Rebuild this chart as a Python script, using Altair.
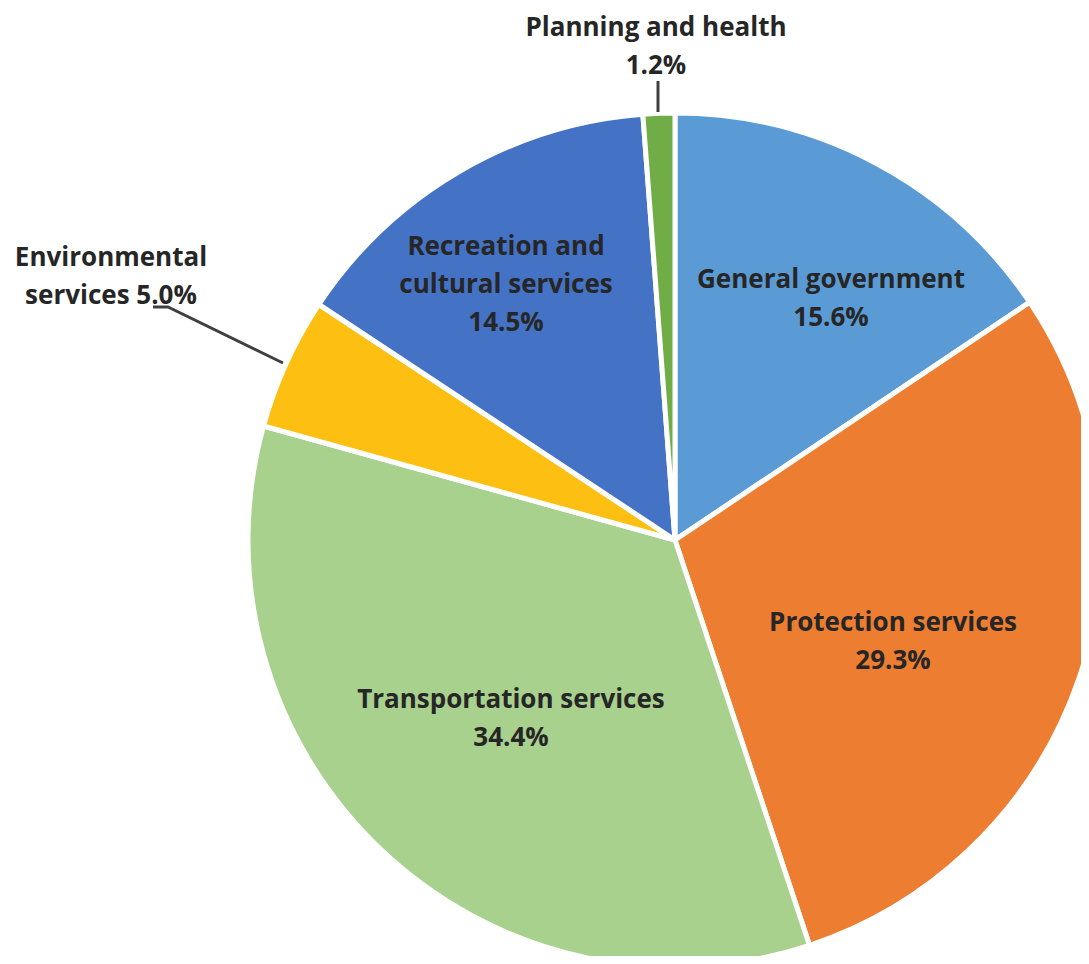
import altair as alt
import pandas as pd

categories = ["General government", "Protection services", "Transportation services",
              "Environmental services", "Recreation and cultural services", "Planning and health"]
values = [15.6, 29.3, 34.4, 5.0, 14.5, 1.2]
colors = ["#5B9BD5", "#ED7D31", "#A9D18E", "#FDC012", "#4472C4", "#70AD47"]
label_lines = [
    ["General government", "15.6%"],
    ["Protection services", "29.3%"],
    ["Transportation services", "34.4%"],
    ["Environmental", "services 5.0%"],
    ["Recreation and", "cultural services", "14.5%"],
    ["Planning and health", "1.2%"],
]

df = pd.DataFrame({"category": categories, "value": values, "order": list(range(len(values)))})

W, H = 1073, 948
CX, CY, R = 667, 532, 427

pie = alt.Chart(df).mark_arc(radius=R, stroke="white", strokeWidth=5).encode(
    theta=alt.Theta("value:Q", stack=True),
    order=alt.Order("order:Q"),
    color=alt.Color("category:N", scale=alt.Scale(domain=categories, range=colors), legend=None),
    x=alt.value(CX), y=alt.value(CY),
)

# label anchor positions: centre of first line (annotation layout, view pixels)
label_pos = [(823, 272), (885, 615), (503, 692), (103, 250), (498, 239), (648, 20)]

layers = [pie]
for lines, (lx, ly) in zip(label_lines, label_pos):
    layers.append(
        alt.Chart(pd.DataFrame({"a": [0]})).mark_text(
            font="Open Sans", fontWeight="bold", fontSize=26, color="#262626",
            align="center", baseline="middle", lineHeight=38,
        ).encode(x=alt.value(lx), y=alt.value(ly), text=alt.value(lines))
    )

# leader lines
lead1 = pd.DataFrame({"x": [650, 650], "y": [73, 104], "k": [0, 1]})
lead2 = pd.DataFrame({"x": [145, 160, 275], "y": [299, 299, 355], "k": [0, 1, 2]})
for ld in (lead1, lead2):
    layers.append(
        alt.Chart(ld).mark_line(color="#404040", strokeWidth=3).encode(
            x=alt.X("x:Q", scale=alt.Scale(domain=[0, W], range=[0, W]), axis=None),
            y=alt.Y("y:Q", scale=alt.Scale(domain=[0, H], range=[0, H]), axis=None),
            order="k:Q",
        )
    )

chart = alt.layer(*layers).resolve_scale(x="independent", y="independent").properties(
    width=W, height=H, padding=0, autosize=alt.AutoSizeParams(type="none"),
    background="white",
).configure_view(stroke=None)

chart.save("out.html", embed_options={"renderer": "svg", "actions": False})
